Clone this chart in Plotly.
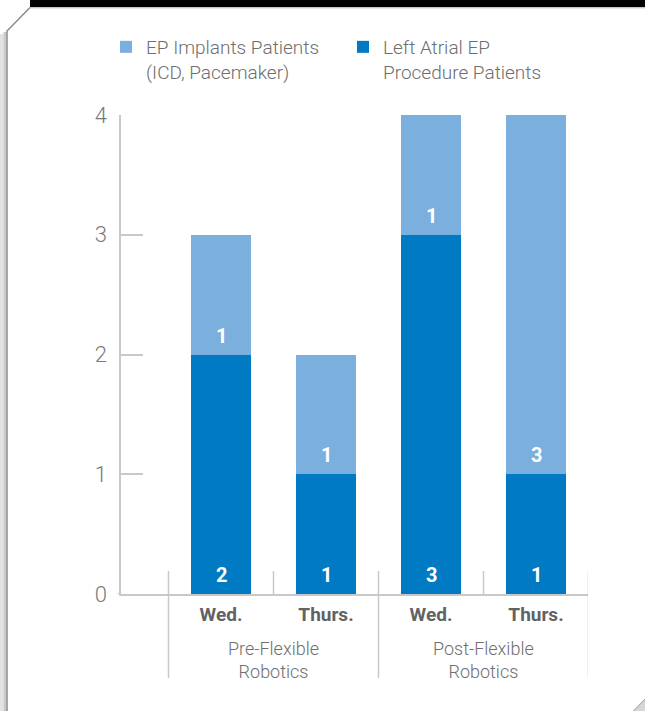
import plotly.graph_objects as go

# ---------------- data ----------------
categories = ["Wed.", "Thurs.", "Wed.", "Thurs."]
group_labels = ["Pre-Flexible<br>Robotics", "Post-Flexible<br>Robotics"]
group_sizes = [2, 2]
left_atrial = [2, 1, 3, 1]          # Left Atrial EP Procedure Patients (bottom)
ep_implants = [1, 1, 1, 3]          # EP Implants Patients (ICD, Pacemaker) (top)
y_ticks = [0, 1, 2, 3, 4]

name_implants = "EP Implants Patients<br>(ICD, Pacemaker)"
name_left = "Left Atrial EP<br>Procedure Patients"

# ---------------- style ----------------
LIGHT = "#7BAFDE"
DARK = "#007AC3"
GRAY_TXT = "#6e6e6e"
AXIS_GRAY = "#c8c8c8"
FONT = "Roboto, 'Open Sans', sans-serif"
BOLD_FONT = "'Liberation Sans Narrow', 'Arial Narrow', Roboto, sans-serif"

W, H = 645, 711
ML, MR, MT, MB = 121, 57, 115, 117
PW, PH = W - ML - MR, H - MT - MB
SLOT = 105.0  # px per category slot
x_left = -(221 - ML) / SLOT
x_range = [x_left, x_left + PW / SLOT]


def px(x):
    return (x - ML) / PW


def py(y):
    return (H - MB - y) / PH


x_pos = list(range(len(categories)))

fig = go.Figure()
fig.add_trace(go.Bar(x=x_pos, y=left_atrial, name=name_left, marker_color=DARK,
                     marker_line_width=0, width=0.57, hoverinfo="skip"))
fig.add_trace(go.Bar(x=x_pos, y=ep_implants, name=name_implants, marker_color=LIGHT,
                     marker_line_width=0, width=0.57, hoverinfo="skip"))

annotations = []
# value labels at the bottom of each segment
for i, (a, b) in enumerate(zip(left_atrial, ep_implants)):
    for base, val in ((0, a), (a, b)):
        annotations.append(dict(x=i, y=base, xref="x", yref="y", text=f"<b>{val}</b>",
                                showarrow=False, yanchor="middle", yshift=19,
                                font=dict(family=BOLD_FONT, size=20, color="white")))

# group labels
start = 0
for g, n in zip(group_labels, group_sizes):
    center = start + (n - 1) / 2
    annotations.append(dict(x=center, y=py(636), xref="x", yref="paper", text=g,
                            showarrow=False, yanchor="top",
                            font=dict(family=FONT, size=18, color=GRAY_TXT, weight=300)))
    start += n

shapes = []
# dividers between groups (long) and between categories (short)
bounds = [-0.5]
acc = -0.5
for n in group_sizes:
    acc += n
    bounds.append(acc)
for b in bounds:
    shapes.append(dict(type="line", xref="x", yref="paper", x0=b, x1=b,
                       y0=py(571), y1=py(678), line=dict(color=AXIS_GRAY, width=1.5)))
for i in range(len(categories) - 1):
    b = i + 0.5
    if b not in bounds:
        shapes.append(dict(type="line", xref="x", yref="paper", x0=b, x1=b,
                           y0=py(571), y1=py(594), line=dict(color=AXIS_GRAY, width=1.5)))
# baseline stub left of the y axis
shapes.append(dict(type="line", xref="paper", yref="y", x0=px(117), x1=0, y0=0, y1=0,
                   line=dict(color=AXIS_GRAY, width=1.5)))

# card frame decoration
shapes.append(dict(type="rect", xref="paper", yref="paper", x0=px(0), x1=px(3.5),
                   y0=py(711), y1=py(34), fillcolor="#e2e2e2", line_width=0, layer="below"))
shapes.append(dict(type="rect", xref="paper", yref="paper", x0=px(3.5), x1=px(6.5),
                   y0=py(711), y1=py(32), fillcolor="#c9c9c9", line_width=0, layer="below"))
shapes.append(dict(type="path", xref="paper", yref="paper",
                   path=f"M {px(30)},{py(7.5)} L {px(7)},{py(31)} L {px(7)},{py(712)}",
                   line=dict(color="#8c8c8c", width=1.5)))
shapes.append(dict(type="rect", xref="paper", yref="paper", x0=px(30), x1=px(646),
                   y0=py(7), y1=py(-1), fillcolor="black", line_width=0))
shapes.append(dict(type="line", xref="paper", yref="paper", x0=px(30), x1=px(646),
                   y0=py(7.8), y1=py(7.8), line=dict(color="#b0b0b0", width=1)))
shapes.append(dict(type="path", xref="paper", yref="paper",
                   path=f"M {px(646)},{py(698)} L {px(632.5)},{py(712)} L {px(646)},{py(712)} Z",
                   fillcolor="#d6d6d6", line=dict(color="#9a9a9a", width=1)))

fig.update_layout(
    width=W, height=H,
    margin=dict(l=ML, r=MR, t=MT, b=MB, pad=0),
    paper_bgcolor="white", plot_bgcolor="white",
    barmode="stack",
    showlegend=True,
    legend=dict(orientation="h", traceorder="reversed", x=px(106), y=py(28),
                xanchor="left", yanchor="top", valign="top",
                entrywidth=192, entrywidthmode="pixels",
                font=dict(family=FONT, size=19, color=GRAY_TXT, weight=300),
                bgcolor="rgba(0,0,0,0)"),
    xaxis=dict(range=x_range, tickvals=x_pos, ticktext=[f"<b>{c}</b>" for c in categories],
               tickfont=dict(family=BOLD_FONT, size=19, color="#626262"),
               showline=True, linecolor=AXIS_GRAY, linewidth=1.5,
               ticks="", showgrid=False, zeroline=False, ticklabelstandoff=2,
               fixedrange=True),
    yaxis=dict(range=[0, 4], tickvals=y_ticks, ticks="inside", ticklen=22,
               tickcolor=AXIS_GRAY, tickwidth=1.5,
               showline=True, linecolor=AXIS_GRAY, linewidth=1.5,
               showgrid=False, zeroline=False,
               tickfont=dict(family=FONT, size=22, color="#7a7a7a", weight=300),
               ticklabelstandoff=8, fixedrange=True),
    annotations=annotations,
    shapes=shapes,
)

fig.write_html("out.html")
